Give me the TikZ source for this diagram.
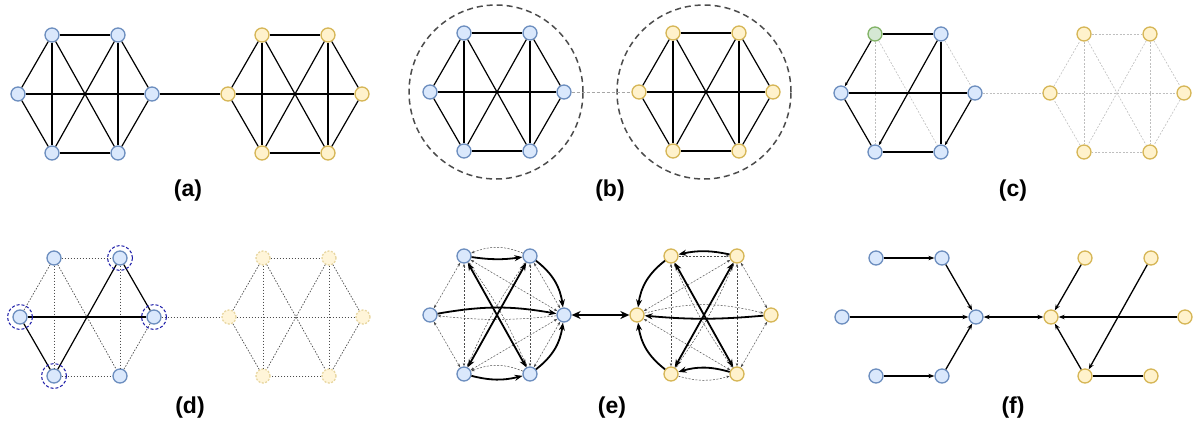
\documentclass[tikz,border=0pt]{standalone}
\usepackage{fontspec}
\setmainfont{Liberation Sans}
\usetikzlibrary{arrows.meta}
\definecolor{bluefill}{HTML}{DAE8FC}
\definecolor{bluedraw}{HTML}{6C8EBF}
\definecolor{yellowfill}{HTML}{FFF2CC}
\definecolor{yellowdraw}{HTML}{D6B656}
\definecolor{greenfill}{HTML}{D5E8D4}
\definecolor{greendraw}{HTML}{82B366}
\definecolor{pickblue}{HTML}{1C1CA8}
\tikzset{
  vtx/.style={circle, minimum size=14pt, inner sep=0pt, line width=1.3pt},
  bluevtx/.style={vtx, draw=bluedraw, fill=bluefill},
  yellowvtx/.style={vtx, draw=yellowdraw, fill=yellowfill},
  greenvtx/.style={draw=greendraw, fill=greenfill},
  fadedvtx/.style={vtx, draw=yellowdraw!55, fill=yellowfill!75, dash pattern=on 2pt off 1.5pt},
  link/.style={line width=1.2pt, black},
  faint/.style={line width=0.6pt, black!25, dash pattern=on 2pt off 1.5pt},
  dotlink/.style={line width=0.7pt, black!70, dash pattern=on 1.5pt off 1.5pt},
  bridge/.style={line width=1pt, black!35, dash pattern=on 3pt off 2pt},
  ring/.style={circle, minimum size=174pt, draw=black!70, line width=1.5pt, dash pattern=on 6pt off 4pt},
  pick/.style={circle, minimum size=25pt, draw=pickblue, line width=1pt, dash pattern=on 3pt off 2pt},
  smalltip/.style={-{Stealth[length=4pt,width=3pt]}},
  heavy/.style={line width=1.8pt, -{Stealth[length=8pt,width=6pt]}},
  heavyboth/.style={line width=1.8pt, {Stealth[length=8pt,width=6pt]}-{Stealth[length=8pt,width=6pt]}},
  weak/.style={line width=0.5pt, black!70, dash pattern=on 2pt off 1.5pt,
    {Stealth[length=3.5pt,width=2.5pt]}-{Stealth[length=3.5pt,width=2.5pt]}},
  weakone/.style={weak, -{Stealth[length=3.5pt,width=2.5pt]}},
  flow/.style={line width=1.3pt, -{Stealth[length=6pt,width=4.5pt]}},
  paneltag/.style={font=\bfseries\fontsize{23}{26}\selectfont},
}
% six vertices of one community, centred at (#3,#4)
\newcommand{\hexnodes}[5][]{%
  \node[#5] (#2l)  at (#3-67,#4) {};
  \node[#5,#1] (#2tl) at (#3-33,#4-59) {};
  \node[#5] (#2tr) at (#3+33,#4-59) {};
  \node[#5] (#2r)  at (#3+67,#4) {};
  \node[#5] (#2bl) at (#3-33,#4+59) {};
  \node[#5] (#2br) at (#3+33,#4+59) {};
}
\newcommand{\hexedges}[2]{%
  \foreach \p/\q in {l/tl, tl/tr, tr/r, r/br, br/bl, bl/l, tl/bl, tr/br, tl/br, tr/bl, l/r}
    \draw[#2] (#1\p) -- (#1\q);
}

\begin{document}
\begin{tikzpicture}[x=1pt, y=-1pt]
  \useasboundingbox (0,0) rectangle (1200,424);

  % (a)
  \hexnodes{ab}{85}{94}{bluevtx}
  \hexnodes{ay}{295}{94}{yellowvtx}
  \hexedges{ab}{link}
  \hexedges{ay}{link}
  \draw[link] (abr) -- (ayl);
  \node[paneltag] (atag) at (188,191) {(a)};

  % (b)
  \node[ring] (bbring) at (496,92) {};
  \node[ring] (byring) at (704,92) {};
  \hexnodes{bb}{497}{92}{bluevtx}
  \hexnodes{by}{706}{92}{yellowvtx}
  \hexedges{bb}{link}
  \hexedges{by}{link}
  \draw[bridge] (bbr) -- (byl);
  \node[paneltag] (btag) at (610,191) {(b)};

  % (c)
  \hexnodes[greenvtx]{cb}{908}{93}{bluevtx}
  \hexnodes{cy}{1117}{93}{yellowvtx}
  \hexedges{cy}{faint}
  \foreach \p/\q in {tl/bl, tl/br, tr/r}
    \draw[faint] (cb\p) -- (cb\q);
  \foreach \p/\q in {tl/tr, l/bl, l/r, tr/br, bl/br}
    \draw[link] (cb\p) -- (cb\q);
  \foreach \p/\q in {tl/l, tr/bl, r/br}
    \draw[link, smalltip] (cb\p) -- (cb\q);
  \draw[faint] (cbr) -- (cyl);
  \node[paneltag] (ctag) at (1013,191) {(c)};

  % (d)
  \hexnodes{db}{87}{317}{bluevtx}
  \hexnodes{dy}{296}{317}{fadedvtx}
  \hexedges{dy}{dotlink}
  \foreach \p/\q in {tl/tr, tl/l, tl/bl, tl/br, tr/br, bl/br, r/br}
    \draw[dotlink] (db\p) -- (db\q);
  \foreach \p/\q in {l/r, l/bl, bl/tr, tr/r}
    \draw[link] (db\p) -- (db\q);
  \draw[dotlink] (dbr) -- (dyl);
  \foreach \v in {tr, l, r, bl}
    \node[pick] (dpick\v) at (db\v) {};
  \node[paneltag] (dtag) at (190,408) {(d)};

  % (e)
  \hexnodes{eb}{497}{315}{bluevtx}
  \hexnodes{ey}{704}{315}{yellowvtx}
  \foreach \p/\q in {l/tl, l/bl, tl/bl, tr/br, tr/r, br/r, tl/r, bl/r}
    \draw[weak] (eb\p) -- (eb\q);
  \draw[weak] (ebtl) to[bend left=6] (ebbr);
  \draw[weak] (ebbl) to[bend left=6] (ebtr);
  \draw[weakone] (ebtr) to[bend right=22] (ebtl);
  \draw[weakone] (ebbr) to[bend right=22] (ebbl);
  \draw[weakone] (ebr) to[bend left=6] (ebl);
  \draw[heavy] (ebtl) to[bend right=8] (ebtr);
  \draw[heavy] (ebbl) to[bend right=14] (ebbr);
  \draw[heavy] (ebl) to[bend left=10] (ebr);
  \draw[heavy] (ebtr) to[bend left=22] (ebr);
  \draw[heavy] (ebbr) to[bend right=22] (ebr);
  \draw[heavyboth] (ebtl) -- (ebbr);
  \draw[heavyboth] (ebbl) -- (ebtr);
  \foreach \p/\q in {tl/bl, tr/br, tr/r, br/r, l/tr, l/br}
    \draw[weak] (ey\p) -- (ey\q);
  \draw[weak] (eytl) to[bend right=6] (eybr);
  \draw[weak] (eybl) to[bend right=6] (eytr);
  \draw[weakone] (eytl) -- (eytr);
  \draw[weakone] (eybl) to[bend right=16] (eybr);
  \draw[weakone] (eyl) to[bend left=14] (eyr);
  \draw[heavy] (eytr) to[bend right=12] (eytl);
  \draw[heavy] (eybr) to[bend right=16] (eybl);
  \draw[heavy] (eyr) to[bend left=5] (eyl);
  \draw[heavy] (eytl) to[bend right=22] (eyl);
  \draw[heavy] (eybl) to[bend left=22] (eyl);
  \draw[heavyboth] (eytr) -- (eybl);
  \draw[heavyboth] (eytl) -- (eybr);
  \draw[line width=2.6pt, {Stealth[length=9pt,width=8pt]}-{Stealth[length=9pt,width=8pt]}] (ebr) -- (eyl);
  \node[paneltag] (etag) at (612,408) {(e)};

  % (f)
  \hexnodes{fb}{909}{317}{bluevtx}
  \hexnodes{fy}{1118}{317}{yellowvtx}
  \foreach \p/\q in {tl/tr, tr/r, l/r, br/r}
    \draw[flow] (fb\p) -- (fb\q);
  \draw[flow, line width=2.2pt] (fbbl) -- (fbbr);
  \foreach \p/\q in {tl/l, r/l, tr/bl, bl/l}
    \draw[flow] (fy\p) -- (fy\q);
  \draw[link, line width=2.2pt] (fybl) -- (fybr);
  \draw[flow, {Stealth[length=6pt,width=4.5pt]}-{Stealth[length=6pt,width=4.5pt]}] (fbr) -- (fyl);
  \node[paneltag] (ftag) at (1013,408) {(f)};
\end{tikzpicture}
\end{document}
